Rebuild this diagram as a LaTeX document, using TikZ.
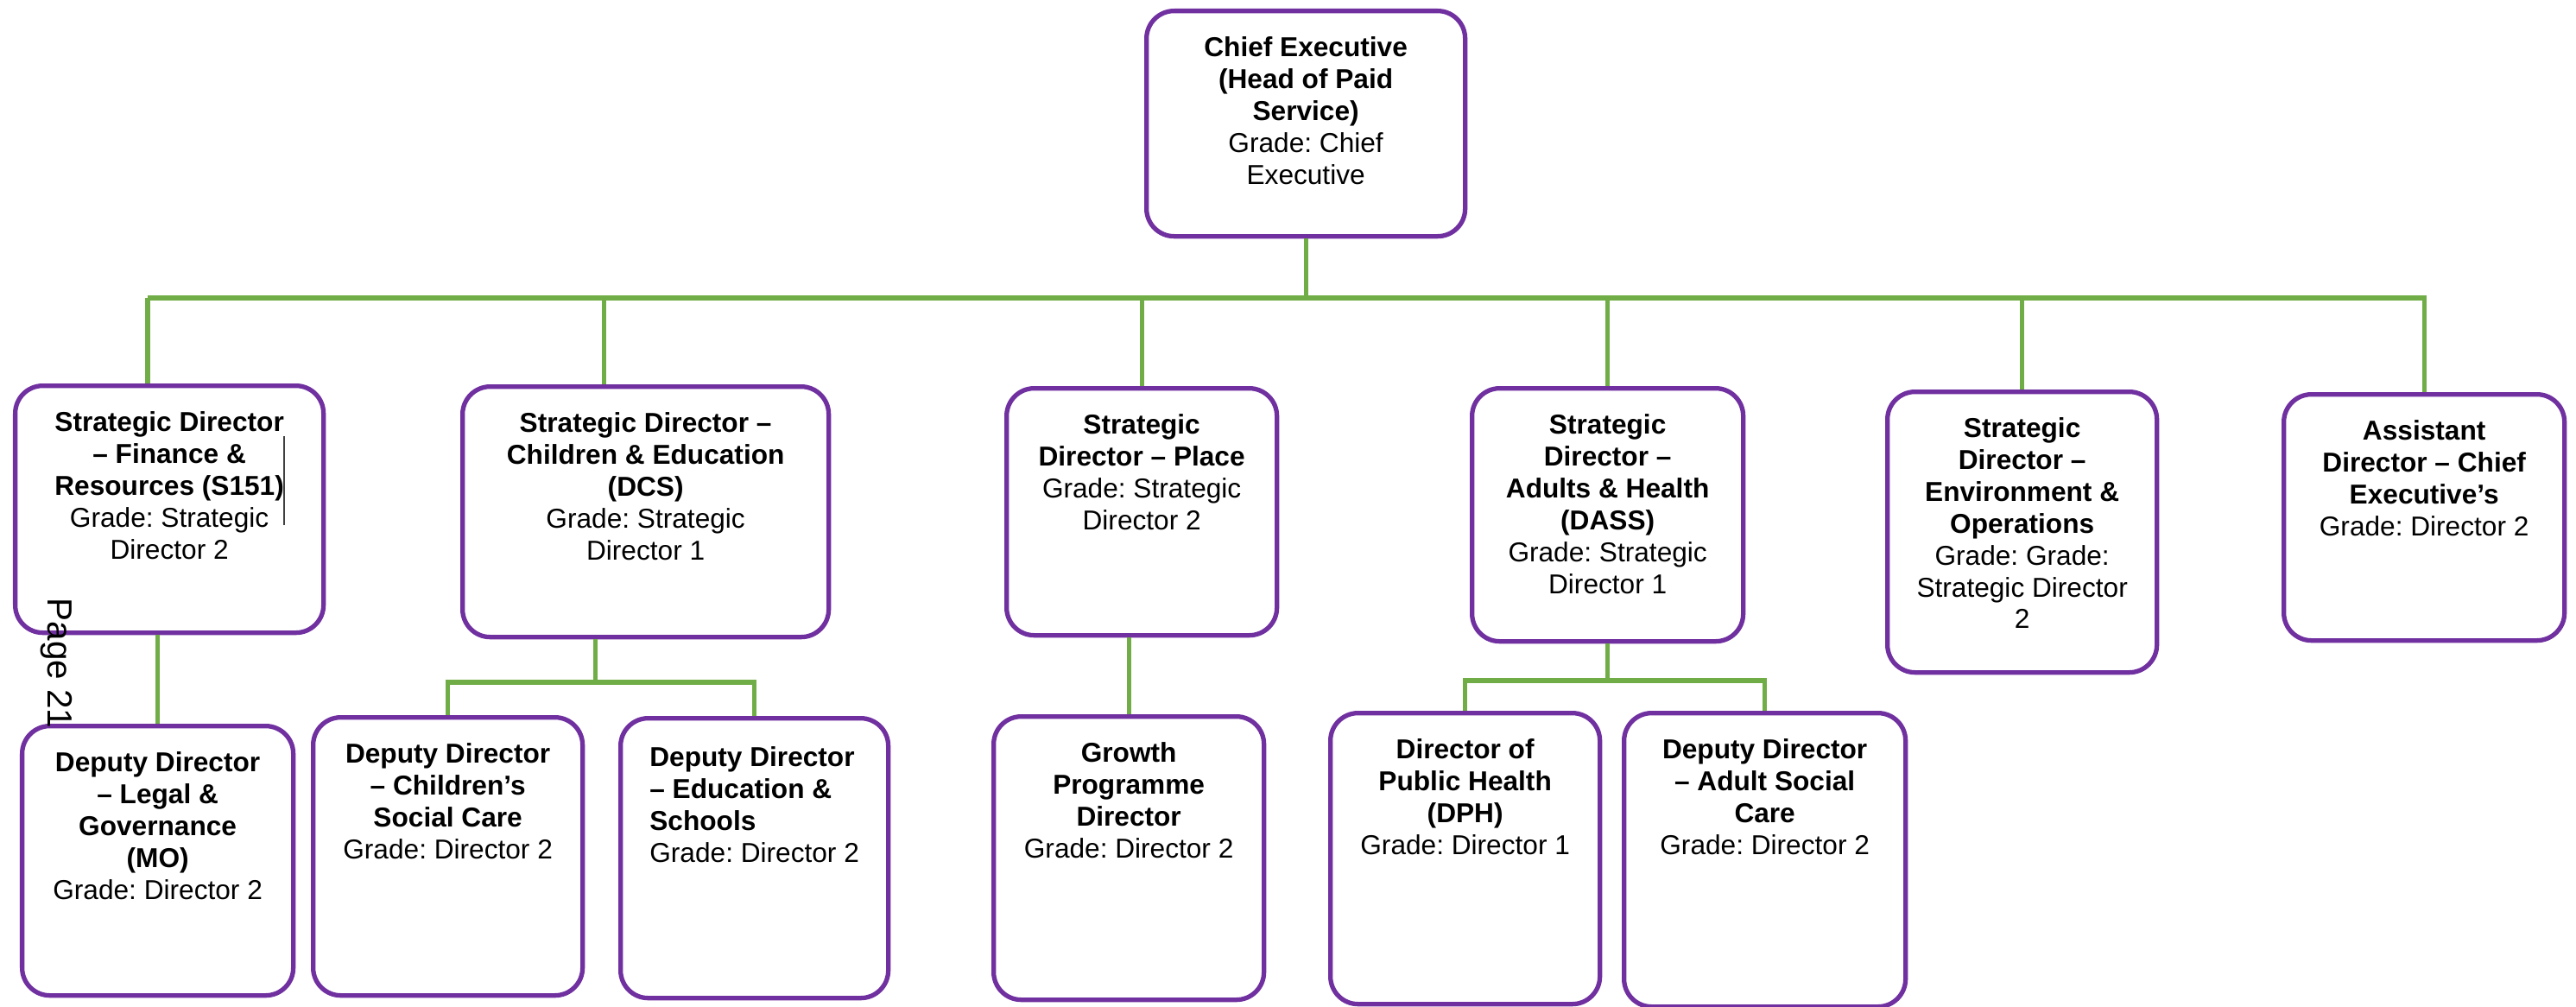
\documentclass[tikz,border=0pt]{standalone}
\usepackage{fontspec}
\setmainfont{Liberation Sans}
\usepackage{xcolor}
\definecolor{postpurple}{HTML}{7030A0}
\definecolor{linkgreen}{HTML}{70AD47}
\usetikzlibrary{positioning}
\frenchspacing
\begin{document}
\begin{tikzpicture}[post/.style={draw=postpurple, line width=1.5pt, rounded corners=0.32cm,
				fill=white, anchor=north west, inner xsep=0.1cm, inner ysep=0.3cm,
				font=\fontsize{9}{10.5}\selectfont},
				link/.style={draw=linkgreen, line width=1.5pt},
				pagemark/.style={rotate=-90, inner sep=0pt, font=\fontsize{11.5}{13}\selectfont}]
	\useasboundingbox (0,0) rectangle (29.83,11.65);
	\node[post] (ce) at (13.25,11.55) {\parbox[t][2.01cm][t]{3.49cm}{\centering\textbf{Chief Executive\\(Head of Paid\\Service)}\\Grade: Chief\\Executive}};
	\node[post] (fin) at (0.15,7.21) {\parbox[t][2.26cm][t]{3.37cm}{\centering\textbf{Strategic Director\\– Finance \&\\Resources (S151)}\\Grade: Strategic\\Director 2}};
	\node[post] (chd) at (5.33,7.20) {\parbox[t][2.30cm][t]{4.04cm}{\centering\textbf{Strategic Director –\\Children \& Education\\(DCS)}\\Grade: Strategic\\Director 1}};
	\node[post] (pl) at (11.63,7.18) {\parbox[t][2.26cm][t]{2.93cm}{\centering\textbf{Strategic\\Director – Place}\\Grade: Strategic\\Director 2}};
	\node[post] (adl) at (17.02,7.18) {\parbox[t][2.33cm][t]{2.94cm}{\centering\textbf{Strategic\\Director –\\Adults \& Health\\(DASS)}\\Grade: Strategic\\Director 1}};
	\node[post] (env) at (21.83,7.14) {\parbox[t][2.65cm][t]{2.92cm}{\centering\textbf{Strategic\\Director –\\Environment \&\\Operations}\\Grade: Grade:\\Strategic Director\\2}};
	\node[post] (ast) at (26.42,7.11) {\parbox[t][2.25cm][t]{3.05cm}{\centering\textbf{Assistant\\Director – Chief\\Executive’s}\\Grade: Director 2}};
	\node[post] (lgl) at (0.23,3.27) {\parbox[t][2.52cm][t]{2.94cm}{\centering\textbf{Deputy Director\\– Legal \&\\Governance\\(MO)}\\Grade: Director 2}};
	\node[post] (csc) at (3.60,3.37) {\parbox[t][2.62cm][t]{2.92cm}{\centering\textbf{Deputy Director\\– Children’s\\Social Care}\\Grade: Director 2}};
	\node[post] (edu) at (7.16,3.36) {\parbox[t][2.64cm][t]{2.90cm}{\centering\begin{tabular}[t]{@{}l@{}}\textbf{Deputy Director}\\\textbf{– Education \&}\\\textbf{Schools}\\Grade: Director 2\end{tabular}}};
	\node[post] (grw) at (11.48,3.38) {\parbox[t][2.68cm][t]{2.93cm}{\centering\textbf{Growth\\Programme\\Director}\\Grade: Director 2}};
	\node[post] (dph) at (15.38,3.42) {\parbox[t][2.77cm][t]{2.92cm}{\centering\textbf{Director of\\Public Health\\(DPH)}\\Grade: Director 1}};
	\node[post] (asc) at (18.78,3.42) {\parbox[t][2.80cm][t]{3.06cm}{\centering\textbf{Deputy Director\\– Adult Social\\Care}\\Grade: Director 2}};
	\coordinate (busL) at (1.71,8.20);
	\coordinate (chdtop) at ([xshift=-0.48cm]chd.north);
	\coordinate (chdbot) at ([xshift=-0.58cm]chd.south);
	\coordinate (chdj) at (chdbot |- 0,3.75);
	\coordinate (adlj) at (adl.south |- 0,3.77);
	\draw[link] (ce.south) -- (ce.south |- busL);
	\draw[link] (busL) -- (ast.north |- busL) -- (ast.north);
	\draw[link] (busL) -- (busL |- fin.north);
	\draw[link] (chdtop |- busL) -- (chdtop);
	\draw[link] (pl.north |- busL) -- (pl.north);
	\draw[link] (adl.north |- busL) -- (adl.north);
	\draw[link] (env.north |- busL) -- (env.north);
	\draw[link] (fin.south -| lgl.north) -- (lgl.north);
	\draw[link] (chdbot) -- (chdj);
	\draw[link] (csc.north) |- (chdj) -| (edu.north);
	\draw[link] (pl.south -| grw.north) -- (grw.north);
	\draw[link] (adl.south) -- (adlj);
	\draw[link] (dph.north) |- (adlj) -| (asc.north);
	\draw[line width=0.5pt, black!75] (3.29,6.60) -- (3.29,5.57);
	\node[pagemark] (pg) at (0.65,3.97) {Page 21};
\end{tikzpicture}
\end{document}
